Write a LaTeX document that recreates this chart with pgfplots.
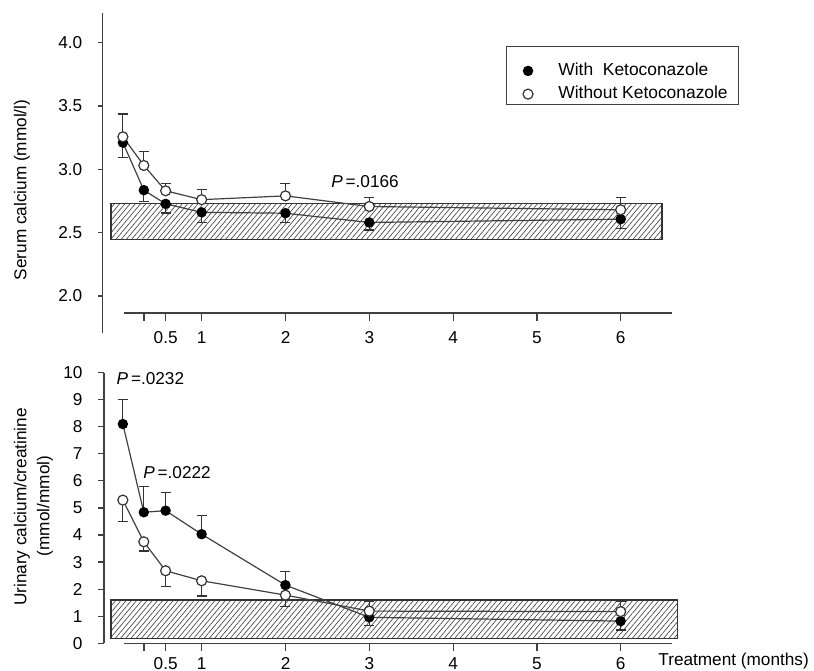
\documentclass[border=0pt]{standalone}
\usepackage{fontspec}
\setmainfont{Liberation Sans}
\usepackage{pgfplots}
\pgfplotsset{compat=1.18}
\usetikzlibrary{patterns.meta}
\newcommand\ff{\fontsize{8.6}{10}\selectfont}

\pgfplotsset{
  every axis/.append style={
    scale only axis, font=\ff, clip=false,
    axis line style={black!75, line width=0.6pt},
    tick style={black!75, line width=0.6pt},
    tick align=outside,
  },
  normbox/.style={draw=black!80, line width=0.6pt,
    pattern={Lines[angle=50, distance=2pt, line width=0.35pt]}, pattern color=black!70, forget plot},
  withk/.style={draw=black!75, line width=0.6pt, mark=*, mark size=2.3pt,
    mark options={fill=black, draw=black}},
  withoutk/.style={draw=black!75, line width=0.6pt, mark=*, mark size=2.5pt,
    mark options={fill=white, draw=black!80, line width=0.6pt}},
  errplot/.style={draw=none, mark=none, forget plot,
    error bars/.cd, y explicit, y dir=#1,
    error bar style={black!80, line width=0.6pt},
    error mark options={rotate=90, mark size=2.5pt, black!80, line width=0.6pt}},
  yaxispanel/.style={axis x line=none, axis y line*=left, xtick=\empty,
    yticklabel style={xshift=-4.2pt}},
  xaxispanel/.style={axis y line=none, axis x line*=bottom, ytick=\empty,
    x=41.9pt, y=1pt, xmin=0.07, xmax=6.61, ymin=0, ymax=1,
    xtick={0.31,0.57,1,2,3,4,5,6}, xticklabels={,0.5,1,2,3,4,5,6},
    major tick length=4pt, typeset ticklabels with strut,
    xticklabel style={yshift=#1}},
}

\begin{document}
\begin{tikzpicture}
\path[use as bounding box] (0pt,0pt) rectangle (407pt,335pt);

% ---- serum calcium ----
\begin{axis}[yaxispanel,
  at={(51.35pt,168.65pt)}, anchor=south west,
  x=41.9pt, y=63.35pt,
  xmin=-0.181, xmax=6.7, ymin=1.71, ymax=4.23,
  ytick={2,2.5,3,3.5,4}, yticklabels={2.0,2.5,3.0,3.5,4.0},
  major tick length=2.5pt,
  legend style={at={(0.7057,0.8744)}, anchor=north west,
    draw=none, fill=none,
    font=\fontsize{8.7}{10}\selectfont,
    inner xsep=5pt, inner ysep=2.6pt, row sep=-0.2pt,
    column sep=9.2pt},
  legend cell align=left,
  legend image code/.code={\draw[#1] plot coordinates {(0pt,0pt)};
    \path[draw=none] (-4pt,0pt) -- (4pt,0pt);},
]
\addplot[normbox] coordinates {(-0.082,2.448) (6.493,2.448) (6.493,2.727) (-0.082,2.727)} -- cycle;
\addplot[errplot=minus] coordinates {
  (0.06,3.21) +- (0,0.12) (0.31,2.835) +- (0,0.09) (0.57,2.727) +- (0,0.072)
  (1,2.66) +- (0,0.08) (2,2.653) +- (0,0.073) (3,2.58) +- (0,0.06) (6,2.606) +- (0,0.076)};
\addplot[errplot=plus] coordinates {
  (0.06,3.256) +- (0,0.18) (0.31,3.03) +- (0,0.11) (0.57,2.83) +- (0,0.06)
  (1,2.76) +- (0,0.08) (2,2.79) +- (0,0.10) (3,2.706) +- (0,0.074) (6,2.68) +- (0,0.10)};
\addplot[withk] coordinates {
  (0.06,3.21) (0.31,2.835) (0.57,2.727) (1,2.66) (2,2.653) (3,2.58) (6,2.606)};
\addlegendentry{With\ \ Ketoconazole}
\addplot[withoutk] coordinates {
  (0.06,3.256) (0.31,3.03) (0.57,2.83) (1,2.76) (2,2.79) (3,2.706) (6,2.68)};
\addlegendentry{Without Ketoconazole}
\end{axis}
% legend frame
\draw[black!75, line width=0.5pt] (253.35pt,311.65pt) rectangle (369.15pt,282.85pt);

\begin{axis}[xaxispanel=-0.8pt, at={(61.9pt,178.5pt)}, anchor=south west]
\end{axis}

% ---- urinary calcium/creatinine ----
\begin{axis}[yaxispanel,
  at={(52pt,13.35pt)}, anchor=south west,
  x=41.9pt, y=13.535pt,
  xmin=-0.165, xmax=6.7, ymin=0, ymax=10,
  ytick={0,1,...,10}, yticklabels={0,1,2,3,4,5,6,7,8,9,10},
  major tick length=3pt,
]
\addplot[normbox] coordinates {(-0.082,0.18) (6.675,0.18) (6.675,1.6) (-0.082,1.6)} -- cycle;
\addplot[errplot=plus] coordinates {
  (0.06,8.10) +- (0,0.91) (0.31,4.84) +- (0,0.95) (0.57,4.90) +- (0,0.66)
  (1,4.03) +- (0,0.68) (2,2.15) +- (0,0.50)};
\addplot[errplot=minus] coordinates {(3,0.96) +- (0,0.31) (6,0.82) +- (0,0.33)};
\addplot[errplot=minus] coordinates {
  (0.06,5.29) +- (0,0.80) (0.31,3.75) +- (0,0.34) (0.57,2.68) +- (0,0.59)
  (1,2.31) +- (0,0.56) (2,1.78) +- (0,0.43)};
\addplot[errplot=plus] coordinates {(3,1.19) +- (0,0.35) (6,1.17) +- (0,0.37)};
\addplot[withk] coordinates {
  (0.06,8.10) (0.31,4.84) (0.57,4.90) (1,4.03) (2,2.15) (3,0.96) (6,0.82)};
\addplot[withoutk] coordinates {
  (0.06,5.29) (0.31,3.75) (0.57,2.68) (1,2.31) (2,1.78) (3,1.19) (6,1.17)};
\end{axis}

\begin{axis}[xaxispanel=1.6pt, at={(61.9pt,13.35pt)}, anchor=south west]
\end{axis}

% labels
\node[rotate=90, font=\ff] at (11pt,240pt) {Serum calcium (mmol/l)};
\node[rotate=90, font=\ff] at (11pt,81.5pt) {Urinary calcium/creatinine};
\node[rotate=90, font=\ff] at (22.5pt,82pt) {(mmol/mmol)};
\node[anchor=base west, font=\ff, inner sep=0pt] at (329pt,2.4pt) {Treatment (months)};
\node[font=\ff] at (182.5pt,244.15pt) {\textit{P}\,=.0166};
\node[font=\ff] at (75.2pt,145.85pt) {\textit{P}\,=.0232};
\node[font=\ff] at (88.5pt,98.65pt) {\textit{P}\,=.0222};
\end{tikzpicture}
\end{document}
